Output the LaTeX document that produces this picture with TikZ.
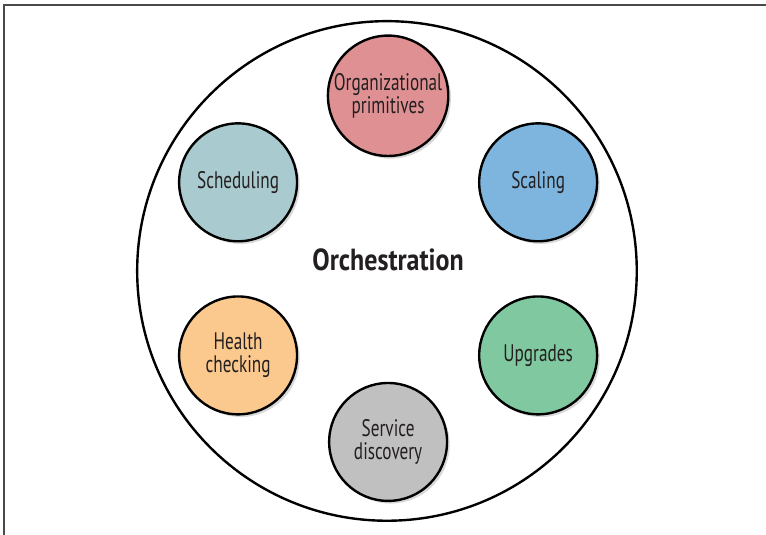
\documentclass[tikz,border=0pt]{standalone}
\usepackage{fontspec}
\setmainfont[FakeStretch=0.72, BoldFeatures={FakeStretch=0.85}]{PT Sans}
\usepackage{tikz}
\usetikzlibrary{shapes,positioning,shadows}
\usepackage{xcolor}

\definecolor{framegray}{HTML}{4A4A4A}
\definecolor{txt}{HTML}{231F20}
\definecolor{orgred}{HTML}{DF9093}
\definecolor{scaleblue}{HTML}{7EB5DE}
\definecolor{upgreen}{HTML}{80C8A0}
\definecolor{svcgray}{HTML}{C0C0C0}
\definecolor{healthorange}{HTML}{FBC98E}
\definecolor{schedteal}{HTML}{A9CBCF}

\tikzset{
  topic/.style={circle, draw=black, line width=1.8pt, minimum size=3.12cm,
    inner sep=1pt, align=center, text=txt, font=\fontsize{18}{17.5}\selectfont,
    drop shadow={opacity=0.3, shadow xshift=2pt, shadow yshift=-2pt}},
  ring/.style={circle, draw=black, line width=1.8pt, minimum size=13.22cm, inner sep=0pt}
}

\begin{document}
\begin{tikzpicture}

\useasboundingbox (0,0) rectangle (20.27,14.155);

% Frame
\draw[framegray, line width=1.2pt] (0.106,0) -- (0.106,14.02) -- (20.27,14.02);

% Outer circle and title
\node[ring] (ring) at (10.24,6.985) {};
\node[font=\bfseries\fontsize{23}{26}\selectfont, text=txt] (orch) at (10.27,7.28) {Orchestration};

% Topics
\node[topic, fill=orgred] (org) at (10.27,11.62) {Organizational\\primitives};
\node[topic, fill=scaleblue] (scaling) at (14.24,9.33) {Scaling};
\node[topic, fill=upgreen] (upgrades) at (14.24,4.75) {Upgrades};
\node[topic, fill=svcgray] (discovery) at (10.27,2.46) {Service\\discovery};
\node[topic, fill=healthorange] (health) at (6.30,4.75) {Health\\checking};
\node[topic, fill=schedteal] (scheduling) at (6.30,9.33) {Scheduling};

\end{tikzpicture}
\end{document}
